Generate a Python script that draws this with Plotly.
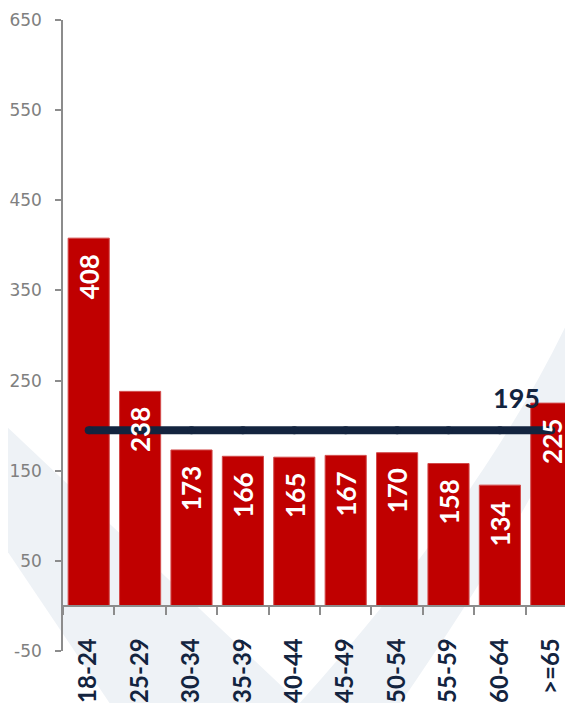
import plotly.graph_objects as go

categories = ["18-24", "25-29", "30-34", "35-39", "40-44", "45-49", "50-54", "55-59", "60-64", ">=65"]
values = [408, 238, 173, 166, 165, 167, 170, 158, 134, 225]
average = 195
y_ticks = [-50, 50, 150, 250, 350, 450, 550, 650]
y_tick_labels = ["-50", "50", "150", "250", "350", "450", "550", "650"]

RED = "#C00000"
NAVY = "#13243F"
GRAY = "#8C8C8C"
WM = "#EEF2F6"

fig = go.Figure()

fig.add_trace(go.Bar(
    x=categories, y=values, width=0.8,
    marker=dict(color=RED, line=dict(color="#D24A4A", width=1)),
    hoverinfo="skip",
))

fig.add_trace(go.Scatter(
    x=categories, y=[average] * len(categories), mode="lines+markers",
    line=dict(color=NAVY, width=8),
    marker=dict(color=NAVY, size=8),
    hoverinfo="skip",
))

for c, v in zip(categories, values):
    fig.add_annotation(
        x=c, y=v, text=str(v), showarrow=False, textangle=-90,
        yanchor="top", yshift=-14,
        font=dict(family="Lato", size=26, color="white", weight="bold"),
    )

fig.add_annotation(
    x=categories[-1], y=average, text=str(average), showarrow=False,
    xanchor="right", yanchor="bottom", xshift=-9, yshift=14,
    font=dict(family="Lato", size=27, color=NAVY, weight="bold"),
)

# faint background watermark swooshes
fig.add_shape(type="path", xref="paper", yref="paper", layer="below",
              path="M -0.123,0.366 L -0.123,0.176 L 0.091,-0.083 L 0.461,-0.083 Z",
              fillcolor=WM, line=dict(width=0))
fig.add_shape(type="path", xref="paper", yref="paper", layer="below",
              path="M 1.01,0.572 Q 0.85,0.271 0.46,-0.083 L 0.656,-0.083 Q 0.928,0.239 1.01,0.414 Z",
              fillcolor=WM, line=dict(width=0))

fig.update_layout(
    width=569, height=695,
    margin=dict(l=55, r=0, t=12, b=52),
    paper_bgcolor="white", plot_bgcolor="rgba(0,0,0,0)",
    showlegend=False, bargap=0.2,
    xaxis=dict(
        type="category", range=[-0.5, len(categories) - 0.5],
        anchor="free", position=50 / 700,
        showline=True, linecolor=GRAY, linewidth=1.5,
        ticks="outside", tickson="boundaries", ticklen=8, tickcolor=GRAY, tickwidth=1.5,
        tickangle=-90, ticklabelstandoff=22,
        tickfont=dict(family="Lato", size=24, color=NAVY, weight="bold"),
        showgrid=False, zeroline=False, automargin=False,
    ),
    yaxis=dict(
        range=[-50, 650], tickvals=y_ticks, ticktext=y_tick_labels,
        showline=True, linecolor=GRAY, linewidth=1.5,
        ticks="outside", ticklen=6, tickcolor=GRAY, tickwidth=1.5,
        ticklabelstandoff=10,
        tickfont=dict(family="DejaVu Sans", size=17, color="#808080"),
        showgrid=False, zeroline=False, automargin=False,
    ),
)

fig.write_html("out.html")
